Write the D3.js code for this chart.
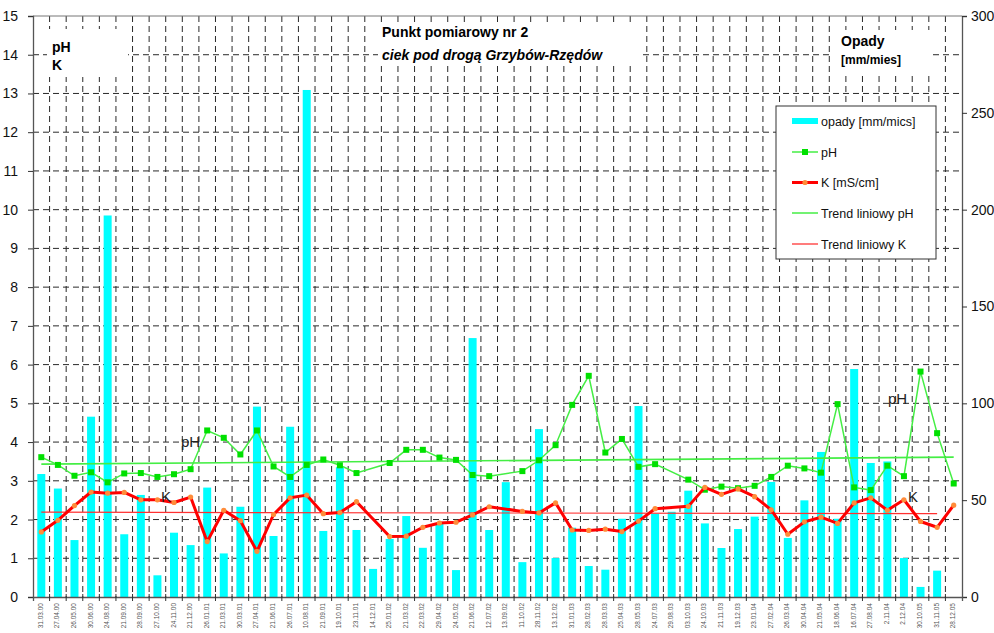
<!DOCTYPE html>
<meta charset="utf-8">
<style>
body {
  margin: 0;
  background: #fff;
  font-family: "Liberation Sans", Arial, sans-serif;
}
.grid line {
  stroke: #2a2a2a;
  stroke-width: 1;
  stroke-dasharray: 6,4;
}
.axis text { fill: #111; }
.xlab { font-size: 6.5px; fill: #555; }
</style>
<body>
<div id="chart"></div>
<script src="https://d3js.org/d3.v7.min.js"></script>
<script>

// dates of sampling
var dates = ["31.03.00","27.04.00","26.05.00","30.06.00","24.08.00","21.09.00","28.09.00","27.10.00",
  "24.11.00","21.12.00","26.01.01","21.03.01","30.03.01","27.04.01","21.06.01","26.07.01","10.08.01",
  "21.09.01","19.10.01","23.11.01","14.12.01","25.01.02","21.03.02","22.03.02","29.04.02","24.05.02",
  "21.06.02","12.07.02","13.09.02","11.10.02","28.11.02","13.12.02","31.01.03","28.02.03","28.03.03",
  "25.04.03","28.05.03","24.07.03","29.08.03","03.10.03","24.10.03","21.11.03","19.12.03","23.01.04",
  "27.02.04","26.03.04","30.04.04","21.05.04","18.06.04","16.07.04","27.08.04","2.11.04","2.12.04",
  "30.10.05","31.11.05","28.12.05"];

// opady [mm/mies] - right axis
var opady = [63.5,56,29.4,93.1,197,32.4,52.7,11.2,33.2,26.8,56.5,22.5,46.6,98.3,31.5,87.9,261.8,
  34.1,67,34.6,14.5,30,41.8,25.4,37.8,13.9,133.7,34.6,59.3,18,86.7,20.1,35.8,16,14.1,40.4,98.6,
  43,44,54.9,38,25.3,35.1,41.5,59.4,30.5,49.9,74.9,40.4,117.7,69.2,70,20.1,5.2,13.6,null];

// pH - left axis
var ph = [3.61,3.41,3.13,3.22,2.96,3.19,3.20,3.10,3.17,3.30,4.30,4.11,3.68,4.30,3.37,3.10,3.41,
  3.55,3.40,3.20,null,3.46,3.80,3.80,3.60,3.54,3.15,3.12,null,3.25,3.53,3.92,4.96,5.71,3.73,4.08,
  3.36,3.43,null,3.03,2.77,2.85,2.81,2.87,3.10,3.39,3.32,3.21,4.98,2.83,2.76,3.39,3.12,5.82,4.23,2.93];

// K [mS/cm] - left axis
var kond = [1.68,1.98,2.36,2.71,2.68,2.70,2.51,2.51,2.44,2.58,1.43,2.24,1.97,1.18,2.13,2.56,2.63,
  2.15,2.18,2.46,null,1.56,1.57,1.80,1.91,1.93,2.12,2.33,null,2.21,2.17,2.43,1.73,1.72,1.75,1.69,
  1.96,2.28,null,2.34,2.83,2.65,2.79,2.59,2.25,1.62,1.94,2.06,1.90,2.43,2.56,2.24,2.51,1.95,1.80,2.37];

// linear trends (first, last value)
var trendPh = [3.43, 3.61];
var trendK = [2.19, 2.15];

var leftTicks = d3.range(0, 16);
var rightTicks = [0, 50, 100, 150, 200, 250, 300];

var width = 994, height = 633;
var plot = {left: 33, right: 962, top: 16, bottom: 597};

var svg = d3.select("#chart").append("svg")
  .attr("width", width)
  .attr("height", height)
  .style("font-family", '"Liberation Sans", Arial, sans-serif');

var x = d3.scaleBand().domain(dates).range([plot.left, plot.right]).padding(0);
var y = d3.scaleLinear().domain([0, 15]).range([plot.bottom, plot.top]);
var y2 = d3.scaleLinear().domain([0, 300]).range([plot.bottom, plot.top]);
var cx = function(i){ return x(dates[i]) + x.bandwidth() / 2; };

// grid
var grid = svg.append("g").attr("class", "grid");
grid.selectAll("line.h").data(leftTicks.slice(1, 15)).enter().append("line")
  .attr("x1", plot.left).attr("x2", plot.right)
  .attr("y1", function(d){ return y(d); }).attr("y2", function(d){ return y(d); });
grid.selectAll("line.v").data(dates.slice(1)).enter().append("line")
  .attr("x1", function(d){ return x(d); }).attr("x2", function(d){ return x(d); })
  .attr("y1", plot.top).attr("y2", plot.bottom);

// top border
svg.append("line").attr("x1", plot.left).attr("x2", plot.right)
  .attr("y1", plot.top).attr("y2", plot.top).attr("stroke", "#777");

// white text boxes over the grid
function whiteBox(x0, y0, w, h){
  svg.append("rect").attr("x", x0).attr("y", y0).attr("width", w).attr("height", h).attr("fill", "#fff");
}
whiteBox(47, 29, 81, 48);
whiteBox(378, 23, 261, 42);
whiteBox(830, 30, 100, 45);

// bars
var barG = svg.append("g");
opady.forEach(function(d, i){
  if(d == null) return;
  barG.append("rect")
    .attr("x", cx(i) - 4)
    .attr("y", y2(d))
    .attr("width", 8)
    .attr("height", plot.bottom - y2(d))
    .attr("fill", "#00ffff");
});

// trend lines
svg.append("line")
  .attr("x1", cx(0)).attr("x2", cx(dates.length - 1))
  .attr("y1", y(trendPh[0])).attr("y2", y(trendPh[1]))
  .attr("stroke", "#44ee44").attr("stroke-width", 1.6);
svg.append("line")
  .attr("x1", cx(0)).attr("x2", cx(dates.length - 2))
  .attr("y1", y(trendK[0])).attr("y2", y(trendK[1]))
  .attr("stroke", "#ff3030").attr("stroke-width", 1.2);

// series lines (missing samples are skipped, line joins neighbours)
function pts(arr){
  var out = [];
  arr.forEach(function(d, i){ if(d != null) out.push([cx(i), y(d)]); });
  return out;
}
var line = d3.line();

var phPts = pts(ph);
svg.append("path").attr("d", line(phPts)).attr("fill", "none")
  .attr("stroke", "#44ee44").attr("stroke-width", 1.5);
svg.append("g").selectAll("rect").data(phPts).enter().append("rect")
  .attr("x", function(d){ return d[0] - 3; }).attr("y", function(d){ return d[1] - 3; })
  .attr("width", 6).attr("height", 6).attr("fill", "#00e000");

var kPts = pts(kond);
svg.append("path").attr("d", line(kPts)).attr("fill", "none")
  .attr("stroke", "#ff0000").attr("stroke-width", 3).attr("stroke-linejoin", "round");
svg.append("g").selectAll("circle").data(kPts).enter().append("circle")
  .attr("cx", function(d){ return d[0]; }).attr("cy", function(d){ return d[1]; })
  .attr("r", 2.6).attr("fill", "#ff8c3a");

// axes
var axisColor = "#555";
var gl = svg.append("g").attr("class", "axis")
  .attr("transform", "translate(" + plot.left + ",0)")
  .call(d3.axisLeft(y).tickValues(leftTicks).tickSize(5).tickPadding(10).tickFormat(d3.format("d")));
var gr = svg.append("g").attr("class", "axis")
  .attr("transform", "translate(" + plot.right + ",0)")
  .call(d3.axisRight(y2).tickValues(rightTicks).tickSize(5).tickPadding(4).tickFormat(d3.format("d")));
var gb = svg.append("g").attr("class", "axis")
  .attr("transform", "translate(0," + plot.bottom + ")")
  .call(d3.axisBottom(x).tickSize(4).tickFormat(""));
gb.selectAll(".tick").remove();
gb.selectAll("line.bt").data(dates.slice(1)).enter().append("line")
  .attr("x1", function(d){ return x(d); }).attr("x2", function(d){ return x(d); })
  .attr("y1", -3).attr("y2", 4).attr("stroke", "#333");

[gl, gr, gb].forEach(function(g){
  g.select(".domain").attr("stroke", axisColor).attr("stroke-width", 1.3);
  g.selectAll(".tick line").attr("stroke", "#333");
  g.selectAll(".tick text").style("font-size", "14px").style("font-family", '"Liberation Sans", Arial, sans-serif');
});

// x labels
svg.append("g").selectAll("text").data(dates).enter().append("text")
  .attr("class", "xlab")
  .attr("transform", function(d){ return "translate(" + (x(d) + x.bandwidth() / 2 + 1.5) + "," + 603 + ") rotate(-90)"; })
  .attr("text-anchor", "end")
  .text(function(d){ return d; });

// titles
svg.append("text").attr("x", 382).attr("y", 37).style("font-size", "14px").style("font-weight", "bold")
  .text("Punkt pomiarowy nr 2");
svg.append("text").attr("x", 382).attr("y", 60).style("font-size", "14px").style("font-weight", "bold")
  .style("font-style", "italic").text("ciek pod drogą Grzybów-Rzędów");
svg.append("text").attr("x", 52).attr("y", 52).style("font-size", "14px").style("font-weight", "bold").text("pH");
svg.append("text").attr("x", 52).attr("y", 70).style("font-size", "14px").style("font-weight", "bold").text("K");
svg.append("text").attr("x", 841).attr("y", 46).style("font-size", "14px").style("font-weight", "bold").text("Opady");
svg.append("text").attr("x", 841).attr("y", 64).style("font-size", "12px").style("font-weight", "bold").text("[mm/mies]");

// labels inside plot
svg.append("text").attr("x", 181).attr("y", 447).style("font-size", "15px").attr("fill", "#222").text("pH");
svg.append("text").attr("x", 161).attr("y", 502).style("font-size", "15px").attr("fill", "#222").text("K");
svg.append("text").attr("x", 888).attr("y", 404).style("font-size", "15px").attr("fill", "#222").text("pH");
svg.append("text").attr("x", 908).attr("y", 502).style("font-size", "15px").attr("fill", "#222").text("K");

// legend
var lg = svg.append("g");
lg.append("rect").attr("x", 776).attr("y", 106).attr("width", 160).attr("height", 153)
  .attr("fill", "#fff").attr("stroke", "#333").attr("stroke-width", 1);
var legItems = ["opady [mm/mics]", "pH", "K [mS/cm]", "Trend liniowy pH", "Trend liniowy K"];
var ly = [121, 152, 182.5, 213, 244];
lg.append("rect").attr("x", 792).attr("y", ly[0] - 3).attr("width", 26).attr("height", 6).attr("fill", "#00ffff");
lg.append("line").attr("x1", 792).attr("x2", 818).attr("y1", ly[1]).attr("y2", ly[1]).attr("stroke", "#44ee44").attr("stroke-width", 1.5);
lg.append("rect").attr("x", 802).attr("y", ly[1] - 3).attr("width", 6).attr("height", 6).attr("fill", "#00e000");
lg.append("line").attr("x1", 792).attr("x2", 818).attr("y1", ly[2]).attr("y2", ly[2]).attr("stroke", "#ff0000").attr("stroke-width", 3);
lg.append("circle").attr("cx", 805).attr("cy", ly[2]).attr("r", 2.6).attr("fill", "#ff8c3a");
lg.append("line").attr("x1", 792).attr("x2", 818).attr("y1", ly[3]).attr("y2", ly[3]).attr("stroke", "#44ee44").attr("stroke-width", 1.5);
lg.append("line").attr("x1", 792).attr("x2", 818).attr("y1", ly[4]).attr("y2", ly[4]).attr("stroke", "#ff5050").attr("stroke-width", 1.5);
lg.selectAll("text").data(legItems).enter().append("text")
  .attr("x", 821).attr("y", function(d, i){ return ly[i] + 4.5; })
  .style("font-size", "12.5px").attr("fill", "#111")
  .text(function(d){ return d; });

</script>
</body>
